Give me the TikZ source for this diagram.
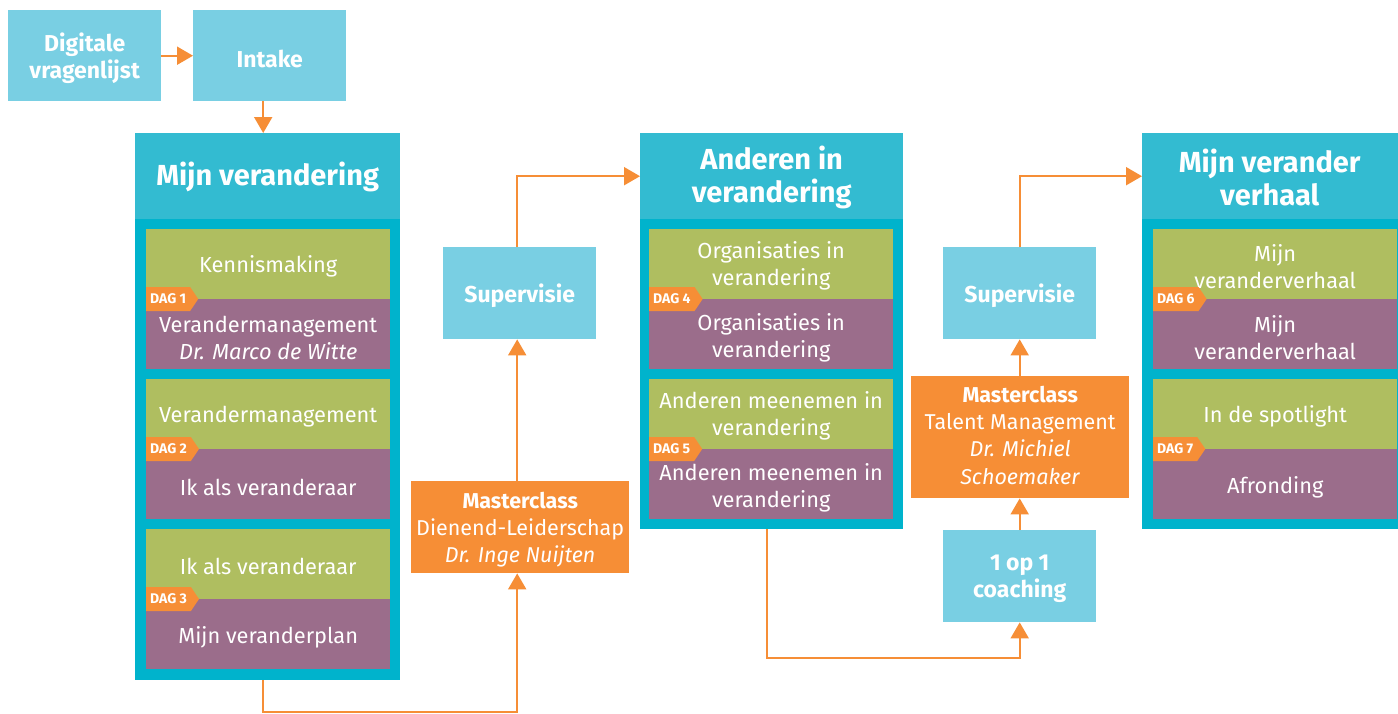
\documentclass[tikz,border=0pt]{standalone}
\usepackage{fontspec}
\setmainfont{Fira Sans}
\usetikzlibrary{arrows.meta,shapes.symbols}
\definecolor{lblue}{HTML}{79CFE3}
\definecolor{hblue}{HTML}{33BBD1}
\definecolor{cblue}{HTML}{00B3CC}
\definecolor{lgreen}{HTML}{AFBE60}
\definecolor{lpurple}{HTML}{9B6D8B}
\definecolor{orng}{HTML}{F68E36}
\begin{document}
\begin{tikzpicture}[x=1pt,y=-1pt,
  box/.style={anchor=north west,inner sep=0pt},
  lb/.style={box,fill=lblue,minimum width=153pt,minimum height=91pt},
  mc/.style={box,fill=orng,minimum width=218pt},
  col/.style={box,fill=cblue,minimum width=265pt},
  hdr/.style={box,fill=hblue,minimum height=86pt},
  gb/.style={box,fill=lgreen,minimum width=244pt,minimum height=70pt},
  pb/.style={box,fill=lpurple,minimum width=244pt,minimum height=70pt},
  txt/.style={text=white,align=center,inner sep=0pt,font=\fontsize{21.8}{27}\selectfont},
  gt/.style={txt,yshift=-2pt},
  pt/.style={txt,yshift=-3.5pt},
  lbt/.style={txt,yshift=-3pt,font=\fontsize{23}{27}\selectfont\bfseries},
  mct/.style={txt,font=\fontsize{21.5}{27.3}\selectfont},
  ht/.style={txt,yshift=-1pt,font=\fontsize{29}{33}\selectfont\bfseries},
  dag/.style={shape=signal,signal to=east,signal pointer angle=112,fill=orng,text=white,anchor=west,
    minimum height=24pt,inner xsep=4pt,inner ysep=0pt,font=\fontsize{14}{14}\selectfont\bfseries},
  conn/.style={draw=orng,line width=2pt,-{Triangle[length=16pt,width=18pt]}}]
\useasboundingbox (0,0) rectangle (1398,713);
\fill[white] (0,0) rectangle (1398,713);

% top
\node[lb] (dig) at (8,10) {};
\node[lbt] (digt) at (dig.center) {Digitale\\vragenlijst};
\node[lb] (intake) at (193,10) {};
\node[lbt] (intaket) at (intake.center) {Intake};

% column 1
\node[col,minimum height=547pt] (c1) at (135,133) {};
\node[hdr,minimum width=265pt] (h1) at (135,133) {};
\node[ht] (h1t) at (h1.center) {Mijn verandering};
\node[gb] (g1) at (146,229) {};
\node[gt] (g1t) at (g1.center) {Kennismaking};
\node[pb] (p1) at (146,299) {};
\node[pt] (p1t) at (p1.center) {Verandermanagement\\\textit{Dr. Marco de Witte}};
\node[gb] (g2) at (146,379) {};
\node[gt] (g2t) at (g2.center) {Verandermanagement};
\node[pb] (p2) at (146,449) {};
\node[pt] (p2t) at (p2.center) {Ik als veranderaar};
\node[gb] (g3) at (146,529) {};
\node[gt] (g3t) at (g3.center) {Ik als veranderaar};
\node[pb] (p3) at (146,599) {};
\node[pt] (p3t) at (p3.center) {Mijn veranderplan};
\node[dag] (d1) at (146,299) {DAG 1};
\node[dag] (d2) at (146,449) {DAG 2};
\node[dag] (d3) at (146,599) {DAG 3};

% middle 1
\node[lb,minimum height=92pt] (s1) at (443,247) {};
\node[lbt] (s1t) at (s1.center) {Supervisie};
\node[mc,minimum height=92pt] (m1) at (411,481) {};
\node[mct,yshift=-2.5pt] (m1t) at (m1.center) {\textbf{Masterclass}\\Dienend-Leiderschap\\\textit{Dr. Inge Nuijten}};

% column 2
\node[col,minimum width=263pt,minimum height=396pt] (c2) at (640,133) {};
\node[hdr,minimum width=263pt] (h2) at (640,133) {};
\node[ht] (h2t) at (h2.center) {Anderen in\\verandering};
\node[gb] (g4) at (649,229) {};
\node[gt] (g4t) at (g4.center) {Organisaties in\\verandering};
\node[pb] (p4) at (649,299) {};
\node[pt] (p4t) at (p4.center) {Organisaties in\\verandering};
\node[gb] (g5) at (649,379) {};
\node[gt] (g5t) at (g5.center) {Anderen meenemen in\\verandering};
\node[pb] (p5) at (649,449) {};
\node[pt] (p5t) at (p5.center) {Anderen meenemen in\\verandering};
\node[dag] (d4) at (649,299) {DAG 4};
\node[dag] (d5) at (649,449) {DAG 5};

% middle 2
\node[lb,minimum height=92pt] (s2) at (943,247) {};
\node[lbt] (s2t) at (s2.center) {Supervisie};
\node[mc,minimum height=122pt] (m2) at (911,376) {};
\node[mct,yshift=2pt] (m2t) at (m2.center) {\textbf{Masterclass}\\Talent Management\\\textit{Dr. Michiel}\\\textit{Schoemaker}};
\node[lb,minimum height=92pt] (coach) at (943,530) {};
\node[lbt] (coacht) at (coach.center) {1 op 1\\coaching};

% column 3
\node[col,minimum height=396pt] (c3) at (1142,133) {};
\node[hdr,minimum width=265pt] (h3) at (1142,133) {};
\node[ht] (h3t) at ([xshift=-5pt]h3.center) {Mijn verander\\verhaal};
\node[gb] (g6) at (1153,229) {};
\node[gt] (g6t) at (g6.center) {Mijn\\veranderverhaal};
\node[pb] (p6) at (1153,299) {};
\node[pt] (p6t) at (p6.center) {Mijn\\veranderverhaal};
\node[gb] (g7) at (1153,379) {};
\node[gt] (g7t) at (g7.center) {In de spotlight};
\node[pb] (p7) at (1153,449) {};
\node[pt] (p7t) at (p7.center) {Afronding};
\node[dag] (d6) at (1153,299) {DAG 6};
\node[dag] (d7) at (1153,449) {DAG 7};

% connectors
\draw[conn] (dig.east) -- (intake.west);
\draw[conn] ([xshift=-6.5pt]intake.south) -- ([xshift=-6.5pt]intake.south |- c1.north);
\draw[conn] ([xshift=-4.5pt]c1.south) -- ++(0,32) -| ([xshift=-3pt]m1.south);
\draw[conn] ([xshift=-3pt]m1.north) -- ([xshift=-3pt]m1.north |- s1.south);
\draw[conn] ([xshift=-2.5pt]s1.north) |- (h2.west);
\draw[conn] ([xshift=-4.5pt]c2.south) -- ++(0,129) -| (coach.south);
\draw[conn] (coach.north) -- (coach.north |- m2.south);
\draw[conn] (coach.north |- m2.north) -- (coach.north |- s2.south);
\draw[conn] (s2.north) |- (h3.west);
\end{tikzpicture}
\end{document}
